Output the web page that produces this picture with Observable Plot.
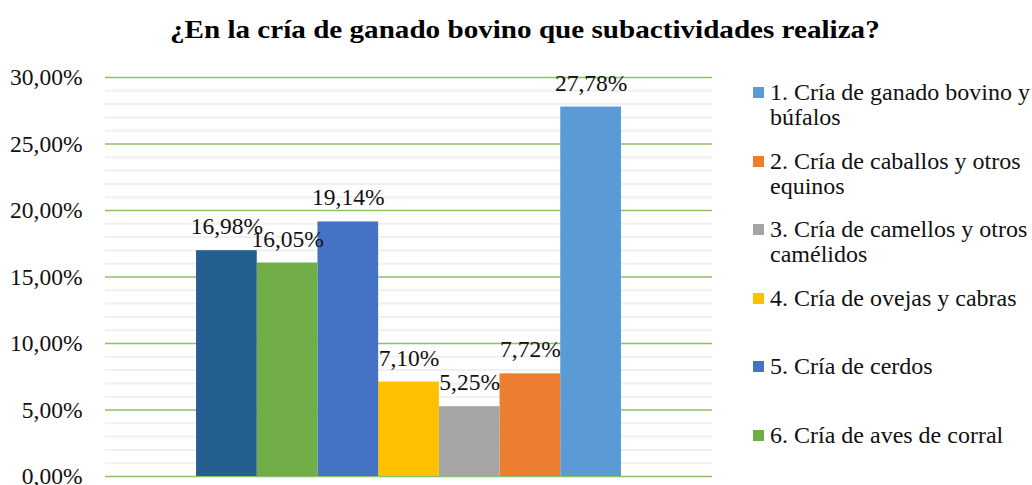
<!DOCTYPE html>
<html>
<head>
<meta charset="utf-8">
<script src="https://cdn.jsdelivr.net/npm/d3@7"></script>
<script src="https://cdn.jsdelivr.net/npm/@observablehq/plot@0.6"></script>
<style>
  html, body { margin: 0; padding: 0; background: #fff; }
  body { width: 1032px; height: 485px; overflow: hidden; font-family: "Liberation Serif", "DejaVu Serif", serif; }
  #title { height: 60px; line-height: 60px; text-align: center; color: #000; }
  #title span { display: inline-block; font-weight: bold; font-size: 26px; transform: scaleX(1.12); transform-origin: center; margin-left: 18px; }
  #row { position: relative; }
  #legend { position: absolute; left: 753px; top: 20px; width: 279px; }
  .item { height: 68.5px; display: flex; align-items: flex-start; }
  .sw { width: 11px; height: 11px; margin-top: 7px; flex: none; margin-right: 6px; }
  .lab { font-size: 24px; line-height: 25px; color: #111; white-space: normal; }
</style>
</head>
<body>
<div id="title"><span></span></div>
<div id="row"><div id="chart"></div><div id="legend"></div></div>
<script>
const titleText = "¿En la cría de ganado bovino que subactividades realiza?";
// Series (legend order)
const categories = [
  "1. Cría de ganado bovino y búfalos",
  "2. Cría de caballos y otros equinos",
  "3. Cría de camellos y otros camélidos",
  "4. Cría de ovejas y cabras",
  "5. Cría de cerdos",
  "6. Cría de aves de corral",
  "7. Otras"
];
const values = [27.78, 7.72, 5.25, 7.10, 19.14, 16.05, 16.98];
const colors = ["#5B9BD5", "#ED7D31", "#A5A5A5", "#FFC000", "#4472C4", "#70AD47", "#255E91"];
const legendShown = 6;
const yTicks = [0, 5, 10, 15, 20, 25, 30];
const yMinor = d3.range(0, 31, 1).filter(v => v % 5 !== 0);

document.querySelector("#title span").textContent = titleText;

const data = categories.map((c, i) => ({name: c, value: values[i], color: colors[i]}));
const xOrder = categories.slice().reverse();
const fmt = v => v.toFixed(2).replace(".", ",") + "%";
const FONT = "'Liberation Serif', 'DejaVu Serif', serif";

const chart = Plot.plot({
  width: 740,
  height: 425,
  marginLeft: 105,
  marginRight: 28,
  marginTop: 17,
  marginBottom: 9,
  style: {fontFamily: FONT, fontSize: "23.5px", color: "#000", background: "#fff", overflow: "visible"},
  x: {type: "band", domain: xOrder, paddingInner: 0, paddingOuter: 1.5, round: false, axis: null},
  y: {domain: [0, 30], label: null},
  marks: [
    Plot.ruleY(yMinor, {stroke: "#F0F0F0", strokeWidth: 2}),
    Plot.ruleY(yTicks, {stroke: "#8CC168", strokeWidth: 1.5}),
    Plot.barY(data, {x: "name", y: "value", fill: "color"}),
    Plot.text(data, {x: "name", y: "value", text: d => fmt(d.value), dy: -24, fill: "#111", fontSize: 23.5, fontFamily: FONT}),
    Plot.axisY({ticks: yTicks, tickFormat: fmt, tickSize: 0, tickPadding: 23, fontSize: 23.5, fill: "#111", label: null, fontFamily: FONT})
  ]
});
document.getElementById("chart").appendChild(chart);

const leg = document.getElementById("legend");
data.slice(0, legendShown).forEach(d => {
  const it = document.createElement("div");
  it.className = "item";
  const sw = document.createElement("div");
  sw.className = "sw";
  sw.style.background = d.color;
  const lb = document.createElement("div");
  lb.className = "lab";
  lb.textContent = d.name;
  it.appendChild(sw); it.appendChild(lb);
  leg.appendChild(it);
});
</script>
</body>
</html>
